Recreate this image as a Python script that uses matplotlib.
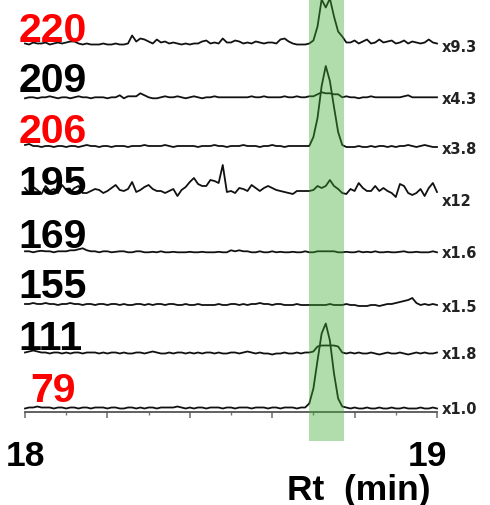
import numpy as np
import matplotlib
matplotlib.use("Agg")
import matplotlib.pyplot as plt
from matplotlib.transforms import ScaledTranslation

# ---------------- data ----------------
rt = np.linspace(18.0, 19.0, 101)          # retention time grid (min)

masses = ["220", "209", "206", "195", "169", "155", "111", "79"]
scale_factors = ["x9.3", "x4.3", "x3.8", "x12", "x1.6", "x1.5", "x1.8", "x1.0"]
highlighted = ["220", "206", "79"]

# scaled ion intensities (display units) per m/z trace
int_220 = [1, 0, 2, 1, 1, 2, 0, 1, 2, 1,
           2, 3, 3, 1, 0, 1, 0, 0, 0, 1,
           0, 0, 1, 0, 0, 1, 9, 3, 6, 5,
           3, 1, 5, 2, 3, 1, 2, 1, 0, 1,
           0, 1, 1, 3, 4, 1, 2, 1, 6, 2,
           2, 4, 3, 1, 2, 1, 3, 2, 1, 2,
           2, 1, 5, 6, 3, 1, 0, 0, 0, 1,
           4, 18, 45, 37, 46, 28, 13, 8, 2, 2,
           4, 1, 3, 5, 1, 2, 5, 2, 3, 4,
           1, 2, 4, 1, 3, 2, 1, 2, 5, 2,
           1]
int_209 = [0, 1, 1, 0, 1, 1, 2, 1, 0, 1,
           1, 0, 1, 2, 1, 1, 0, 1, 1, 1,
           0, 1, 1, 3, 0, 2, 2, 2, 5, 3,
           1, 0, 0, 1, 2, 1, 1, 2, 1, 0,
           1, 2, 1, 0, 1, 1, 2, 1, 1, 1,
           1, 1, 1, 1, 1, 2, 1, 1, 2, 1,
           1, 1, 1, 2, 1, 1, 2, 1, 1, 2,
           2, 4, 6, 5, 5, 4, 4, 1, 2, 1,
           1, 0, 1, 1, 2, 1, 1, 1, 1, 1,
           1, 1, 2, 3, 1, 1, 1, 1, 1, 1,
           1]
int_206 = [2, 3, 1, 1, 0, 1, 1, 0, 1, 1,
           0, 1, 1, 0, 1, 2, 1, 1, 0, 1,
           1, 0, 1, 1, 1, 0, 1, 1, 1, 2,
           1, 1, 1, 1, 2, 1, 0, 1, 1, 1,
           1, 1, 0, 1, 1, 1, 2, 1, 1, 0,
           1, 1, 1, 2, 1, 1, 1, 0, 1, 1,
           2, 1, 1, 0, 1, 1, 1, 1, 1, 1,
           10, 29, 61, 81, 66, 40, 15, 2, 0, 0,
           0, 1, 0, 0, 1, 0, 1, 1, 0, 1,
           0, 1, 1, 2, 1, 0, 1, 2, 1, 0,
           0]
int_195 = [3, -2, 4, 1, -3, 5, 0, 2, -2, 6,
           1, -1, 3, 5, -2, -2, 0, 2, 1, -2,
           0, 3, 6, 1, 0, 2, 9, -1, 1, 4,
           6, 2, 0, 0, -2, 0, 2, -5, 1, 4,
           9, 13, 7, 5, 5, 11, 10, 8, 26, -1,
           0, -2, 3, 2, 0, 6, 3, 0, 3, 5,
           3, 1, 0, -1, -2, -3, 0, 0, 0, 0,
           1, 5, 3, 5, 11, 5, 2, -2, -3, 2,
           0, 8, 3, 0, 0, 5, 0, 3, 0, -2,
           -6, 7, 5, -2, -4, -2, 2, -5, 3, 8,
           -1]
int_169 = [1, 1, 0, 1, 1.5, 1, 1, 0, 1, 1,
           1, 2, 2, 3, 4, 2, 1, 1, 0, 1,
           1, 0, 0.5, 1, 1, 0, 0, 1, 1, 0,
           0, 0.5, 0, 1, 0, 0, 0.5, 0, 0, 0,
           0.5, 0, 0, 0.5, 0, 0, 0, 0.5, 0, 0,
           2, 1, 2, 1, 1, 0, 0, 1, 0, 0,
           1, 0, 0.5, 0, 0, 0.5, 0, 0, 1, 0,
           0, 1, 1, 1, 1, 1, 0, 0, 0.5, 0,
           0, 1, 0, 0.5, 0, 1, 0, 0, 0.5, 0,
           0, 0.5, 1, 0, 0, 0.5, 0, 0, 0, 1,
           0]
int_155 = [1, 1, 2, 1, 1, 2, 1, 1, 0, 1,
           1, 2, 1, 1, 0, 1, 1, 0, 1, 1,
           0, 1, 1, 0, 1, 0, 0, 1, 1, 0,
           1, 0, 1, 1, 0, 1, 1, 0, 0, 1,
           0, 0, 1, 0, 0, 0, 0, 1, 0, 0,
           1, 1, 0, 1, 0, 1, 1, 2, 1, 1,
           0, 1, 1, 0, 0, 0, 1, 0, 0, 0,
           0, 0, 0, 0, 1, 0, 0, 0, 1, 0,
           0, -1, -1, -1, 0, 0, -1, 0, 1, 1,
           2, 3, 4, 5, 7, 2, 0, 1, 0, 1,
           0]
int_111 = [1, 2, 3, 2, 1, 1, 0, 1, 1, 0,
           1, 0, 1, 1, 0, 1, 1, 1, 0, 1,
           0, 1, 1, 0, 1, 0, 0, 1, 1, 0,
           1, 2, 1, 0, 0, 1, 0, 1, 1, 0,
           1, 0, 1, 0, 1, 1, 0, 1, 0, 0,
           1, 1, 0, 1, 2, 1, 0, 1, 0, 0,
           -1, 0, 0, 1, 0, 0, 1, 0, 1, 1,
           2, 7, 8, 8, 8, 8, 7, 1, 0, 1,
           0, 1, 0, 0, 1, 0, -1, 0, 1, 0,
           0, 1, 0, -1, 0, 1, 0, 1, 0, 0,
           1]
int_79 = [0, 1, 1, 2, 1, 1, 1, 0, 1, 1,
          0, 1, 1, 0, 1, 1, 0, 1, 1, 1,
          0, 1, 1, 0, 0, 1, 1, 0, 1, 0,
          1, 1, 0, 1, 1, 1, 1, 2, 1, 0,
          1, 0, 1, 1, 0, 1, 1, 1, 0, 1,
          1, 0, 1, 1, 1, 0, 1, 1, 1, 0,
          1, 1, 0, 1, 1, 1, 0, 1, 1, 5,
          20, 48, 75, 85, 68, 35, 10, 2, 1, 0,
          1, 0, 0, 1, 0, 0, 1, 0, 0, 1,
          0, 0, 1, 0, 0, 0, 1, 0, 0, 1,
          0]
traces = [int_220, int_209, int_206, int_195, int_169, int_155, int_111, int_79]

band_start, band_end = 18.689, 18.774   # highlighted retention window

# ---------------- layout (pixels) ----------------
W, H = 490, 506
baselines = [45.5, 99.3, 148, 192, 253.3, 306, 354.5, 409.5]
label_x = [19, 19, 19, 18, 18, 18, 18, 30]
label_y = [42, 92, 143, 195, 248, 298, 350, 402]
sf_y = [48, 99, 149, 202, 254, 307, 355, 410]

BIG = "Liberation Sans"

fig = plt.figure(figsize=(W / 100, H / 100), dpi=100)
ax = fig.add_axes([0, 0, 1, 1])
ax.set_xlim(18 - 25 / 412, 18 + 465 / 412)
ax.set_ylim(H, 0)

for vals, base in zip(traces, baselines):
    ax.plot(rt, base - np.asarray(vals, float), color="#111111", lw=1.3,
            solid_joinstyle="round", zorder=2)

ax.axvspan(band_start, band_end, ymin=(H - 442) / H, ymax=1,
           color="#3eac34", alpha=0.4, lw=0, zorder=3)

for s in ["top", "right", "left"]:
    ax.spines[s].set_visible(False)
ax.spines["bottom"].set_position(("data", 413))
ax.spines["bottom"].set_bounds(18, 19)
ax.spines["bottom"].set_color("#555555")
ax.spines["bottom"].set_linewidth(1.3)
ax.set_yticks([])
ax.set_xticks(np.arange(18.0, 19.001, 0.2), labels=["18", "", "", "", "", "19"])
ax.set_xticks(np.arange(18.1, 19.0, 0.2), minor=True)
ax.tick_params(axis="x", which="major", direction="out", length=4.5, width=1.2,
               color="#777777", pad=15)
ax.tick_params(axis="x", which="minor", direction="out", length=2.5, width=1.0,
               color="#777777")
for lbl in ax.get_xticklabels():
    lbl.set_fontsize(25.5)
    lbl.set_fontweight("bold")
    lbl.set_family(BIG)
    if lbl.get_text() == "19":
        lbl.set_transform(lbl.get_transform() +
                          ScaledTranslation(-9 / 100, 0, fig.dpi_scale_trans))

for m, lx, ly in zip(masses, label_x, label_y):
    fig.text(lx / W, 1 - ly / H, m, fontsize=29.5, fontweight="bold", family=BIG,
             color="#ff0000" if m in highlighted else "black",
             ha="left", va="baseline", zorder=5)

for sf, sy in zip(scale_factors, sf_y):
    fig.text(442 / W, 1 - sy / H, sf, fontsize=10.5, fontweight="bold",
             family="DejaVu Sans", color="#222222", ha="left", va="center")

fig.text(359 / W, 1 - 500 / H, "Rt  (min)", fontsize=25.5, fontweight="bold",
         family=BIG, ha="center", va="baseline")

fig.savefig("out.png", dpi=100)
